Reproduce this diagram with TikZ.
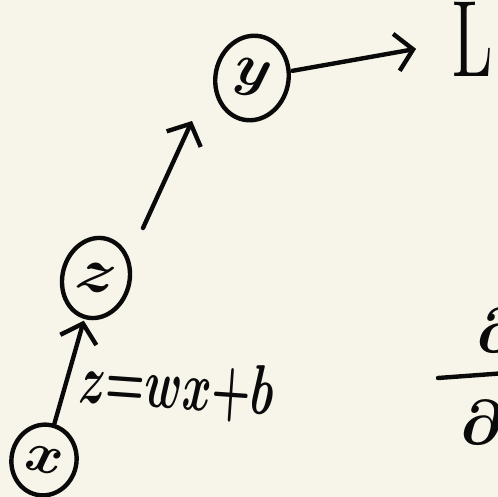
\documentclass[tikz,border=0pt]{standalone}
\usepackage{amsmath}
\usepackage{graphicx}
\usetikzlibrary{arrows.meta,shapes.geometric,calc}
\definecolor{paper}{HTML}{F7F5EA}
\definecolor{ink}{HTML}{0A0A0A}
\begin{document}
\begin{tikzpicture}[x=0.02cm,y=-0.02cm,
  pen/.style={draw=ink,line width=2.5pt,line cap=round,line join=round},
  bubble/.style={pen,ellipse,inner sep=0pt,text=ink,font=\boldmath},
  link/.style={pen,-{Straight Barb[length=3.4mm,width=7.5mm,line width=2.5pt]}},
  hand/.style={text=ink,inner sep=0pt,font=\boldmath\bfseries}]
  \fill[paper] (0,0) rectangle (498,497);
  \useasboundingbox (0,0) rectangle (498,497);
  \clip (0,0) rectangle (498,497);

  % variable bubbles
  \node[bubble,minimum width=1.3cm,minimum height=1.42cm,rotate=-12] (x) at (44,460)
    {\scalebox{3.2}{$x$}};
  \node[bubble,minimum width=1.34cm,minimum height=1.62cm,rotate=-15] (z) at (96,278)
    {\scalebox{3.6}{$z$}};
  \node[bubble,minimum width=1.46cm,minimum height=1.7cm,rotate=-12] (y) at (252,78)
    {\scalebox{3.3}{$y$}};

  % loss
  \node[hand,anchor=base west] (L) at (452,76) {\mdseries\scalebox{3.7}[6.2]{L}};

  % linear map label
  \node[hand,rotate=-4,anchor=base west] (eq) at (78,402)
    {\scalebox{2.5}[4]{$z{=}wx{+}b$}};

  % gradient, running off the right edge
  \node[hand,anchor=base west] (gnum) at (476,352) {\scalebox{3.6}{$\partial L$}};
  \node[hand,anchor=base west] (gden) at (460,444) {\scalebox{3.6}{$\partial z$}};
  \coordinate (barL) at (438,378);
  \coordinate (barR) at (520,372);
  \draw[pen] (barL) -- (barR);

  % ends of the detached middle arrow
  \coordinate (zTop) at (143,228);
  \coordinate (yFoot) at (192,121);

  % forward pass
  \draw[link,shorten >=1pt] (x) -- (z);
  \draw[link] (zTop) -- (yFoot);
  \draw[link,shorten <=1pt,shorten >=1.15cm] (y) -- (L.center);
\end{tikzpicture}
\end{document}
